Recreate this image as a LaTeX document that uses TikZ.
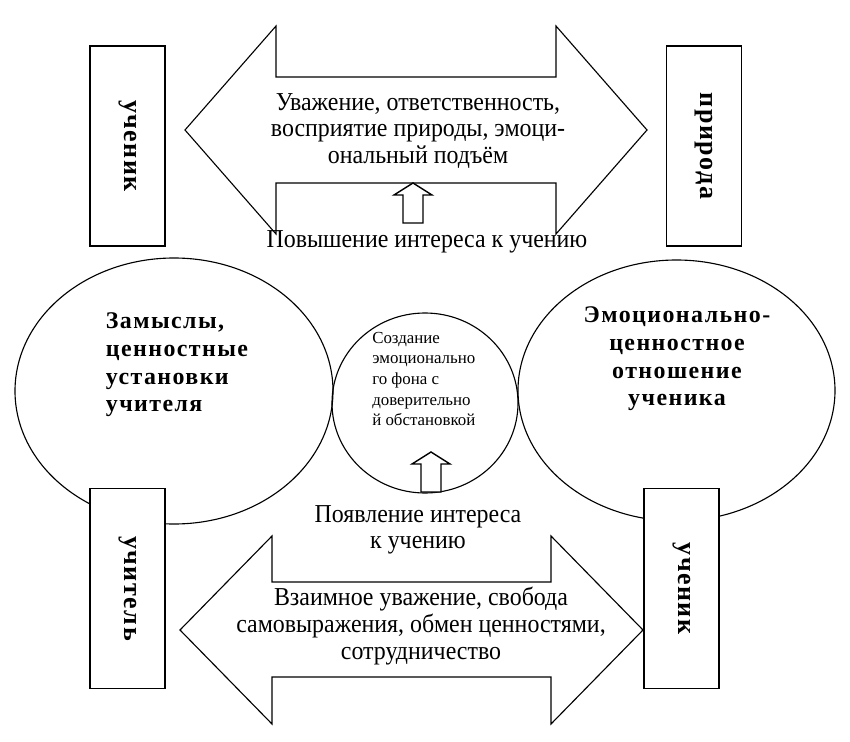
\documentclass[tikz,border=0pt]{standalone}
\usepackage{fontspec}
\setmainfont{Liberation Serif}
\newfontfamily\spacedbold{Liberation Serif}[LetterSpace=6]
\usetikzlibrary{calc,positioning,shapes.geometric}
\newcommand{\pu}{0.025cm}
\newcommand{\flowfont}{\fontsize{17pt}{17.5pt}\selectfont}
\newcommand{\rolefont}{\spacedbold\bfseries\fontsize{18.5pt}{20pt}\selectfont}
\newcommand{\ovalfont}{\spacedbold\bfseries\fontsize{17pt}{19.6pt}\selectfont}
\newcommand{\smallfont}{\fontsize{12pt}{14.6pt}\selectfont}
\tikzset{
every picture/.style={line join=miter},
role box/.style={
  draw=black,
  fill=white,
  line width=0.8pt,
  rotate=-90,
  minimum width=200*\pu,
  minimum height=75*\pu,
  inner sep=0pt,
  font=\rolefont
},
idea oval/.style={ellipse, draw=black, line width=0.8pt, inner sep=0pt},
big flow/.style={draw=black, fill=white, line width=0.8pt},
hollow arrow/.style={draw=black, fill=white, line width=1pt},
flow text/.style={align=center, inner sep=0pt, font=\flowfont, transform shape, yscale=1.08},
oval text/.style={inner sep=0pt, font=\ovalfont}
}
\begin{document}
\begin{tikzpicture}[x=\pu,y=-\pu]
\useasboundingbox[fill=white] (0,0) rectangle (850,742);
% ovals in the middle
\node[idea oval, minimum width=318*\pu, minimum height=266*\pu] (plan) at (174,391) {};
\node[idea oval, minimum width=317*\pu, minimum height=261*\pu] (attitude) at (676.5,390.5) {};
\node[idea oval, minimum width=186*\pu, minimum height=180*\pu] (mood) at (425,403) {};
\node[oval text, align=left] (planTxt) at (177,365) {Замыслы,\\ценностные\\установки\\учителя};
\node[oval text, align=center] (attitudeTxt) at (677,359) {Эмоционально-\\ценностное\\отношение\\ученика};
\node[inner sep=0pt, align=left, anchor=west, font=\smallfont] (moodTxt) at (372,379) {Создание\\эмоционально\\го фона с\\доверительно\\й обстановкой};
% upper double arrow
\draw[big flow] (185,130) -- (276,26) -- (276,77) -- (556,77) -- (556,26) -- (647,130)
  -- (556,234) -- (556,183) -- (276,183) -- (276,234) -- cycle;
\node[flow text] (respectTxt) at (418,131) {Уважение, ответственность,\\восприятие природы, эмоци-\\ональный подъём};
\node[flow text] (raiseTxt) at (427,242) {Повышение интереса к учению};
\draw[hollow arrow] (413,223) -- ++(10,0) -- ++(0,-28) -- ++(9,0) -- ++(-19,-12)
  -- ++(-19,12) -- ++(9,0) -- ++(0,28) -- cycle;
% lower double arrow
\draw[big flow] (180,630) -- (272,536) -- (272,582) -- (551,582) -- (551,536) -- (643,630)
  -- (551,724) -- (551,677) -- (272,677) -- (272,724) -- cycle;
\node[flow text] (appearTxt) at (418,530) {Появление интереса\\к учению};
\node[flow text] (mutualTxt) at (421,626) {Взаимное уважение, свобода\\самовыражения, обмен ценностями,\\сотрудничество};
\draw[hollow arrow] (431,492) -- ++(10,0) -- ++(0,-28) -- ++(9,0) -- ++(-19,-12)
  -- ++(-19,12) -- ++(9,0) -- ++(0,28) -- cycle;
% side boxes
\node[role box] (pupilTop) at (127.5,146) {ученик};
\node[role box] (nature) at (704,146) {природа};
\node[role box] (teacher) at (127.5,588.5) {учитель};
\node[role box] (pupilBot) at (681.5,588.5) {ученик};
\end{tikzpicture}
\end{document}
